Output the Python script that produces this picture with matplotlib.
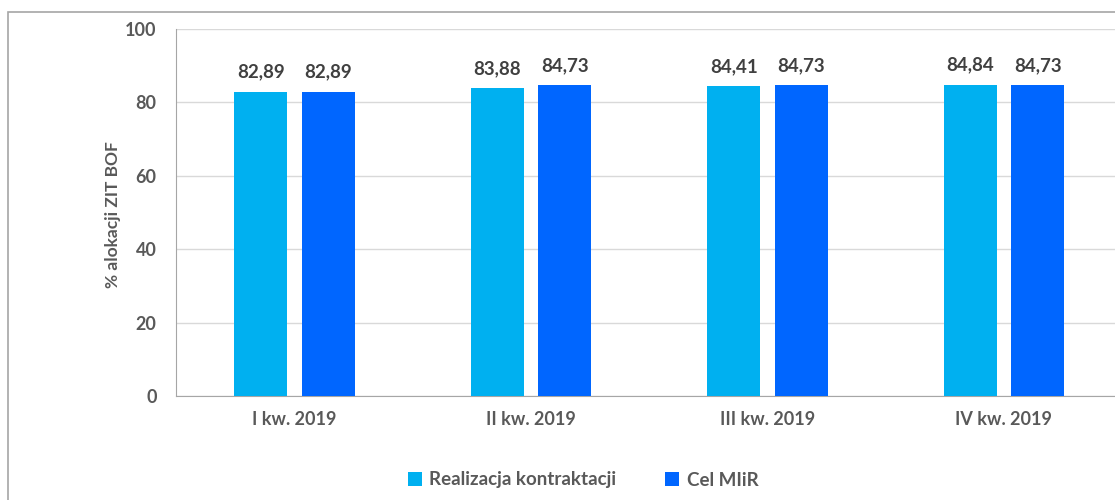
import matplotlib.pyplot as plt
import matplotlib.patches as mpatches
import numpy as np

# Dane
kwartaly = ['I kw. 2019', 'II kw. 2019', 'III kw. 2019', 'IV kw. 2019']
realizacja = [82.89, 83.88, 84.41, 84.84]
cel_miir = [82.89, 84.73, 84.73, 84.73]
serie = ['Realizacja kontraktacji', 'Cel MIiR']
kolory = ['#00B0F0', '#0066FF']

plt.rcParams['font.family'] = ['Lato', 'DejaVu Sans']
szary = '#595959'

fig = plt.figure(figsize=(11.15, 5), dpi=100)
ax = fig.add_axes([176 / 1115, 1 - 396 / 500, 946 / 1115, 367 / 500])

# ramka wokol wykresu
fig.patches.append(mpatches.Rectangle((8 / 1115, -0.1), 1.2, 1 - 12 / 500 + 0.1,
                                      transform=fig.transFigure, fill=False,
                                      edgecolor='#A6A6A6', lw=1.2))

x = np.arange(len(kwartaly))
w = 0.224
s1 = ax.bar(x - 0.141, realizacja, w, color=kolory[0], label=serie[0], zorder=3)
s2 = ax.bar(x + 0.144, cel_miir, w, color=kolory[1], label=serie[1], zorder=3)

for bars in (s1, s2):
    ax.bar_label(bars, labels=[f'{v:.2f}'.replace('.', ',') for v in bars.datavalues],
                 padding=8, fontsize=13.5, fontweight='bold', color='#404040')

ax.set_xlim(-0.5, len(kwartaly) - 0.5)
ax.set_ylim(0, 100)
ax.set_yticks(range(0, 101, 20))
ax.grid(axis='y', color='#D9D9D9', lw=1, zorder=0)
ax.set_xticks(x)
ax.set_xticklabels(kwartaly)
ax.tick_params(length=0, labelsize=13, labelcolor=szary, pad=11)
ax.tick_params(axis='y', pad=14)
for t in ax.get_xticklabels() + ax.get_yticklabels():
    t.set_fontweight('bold')
for k in ['top', 'right']:
    ax.spines[k].set_visible(False)
for k in ['left', 'bottom']:
    ax.spines[k].set_color('#A6A6A6')

fig.text(113 / 1115, 1 - 215 / 500, '% alokacji ZIT BOF', rotation=90,
         ha='center', va='center', fontsize=12.5, fontweight='bold', color=szary)

leg = fig.legend(loc='center', bbox_to_anchor=(583 / 1115, 1 - 480 / 500), ncol=2,
                 frameon=False, handlelength=0.75, handleheight=0.75,
                 columnspacing=2.6, handletextpad=0.4,
                 prop={'size': 13.5, 'weight': 'bold'})
for t in leg.get_texts():
    t.set_color(szary)

fig.savefig('out.png', dpi=100)
